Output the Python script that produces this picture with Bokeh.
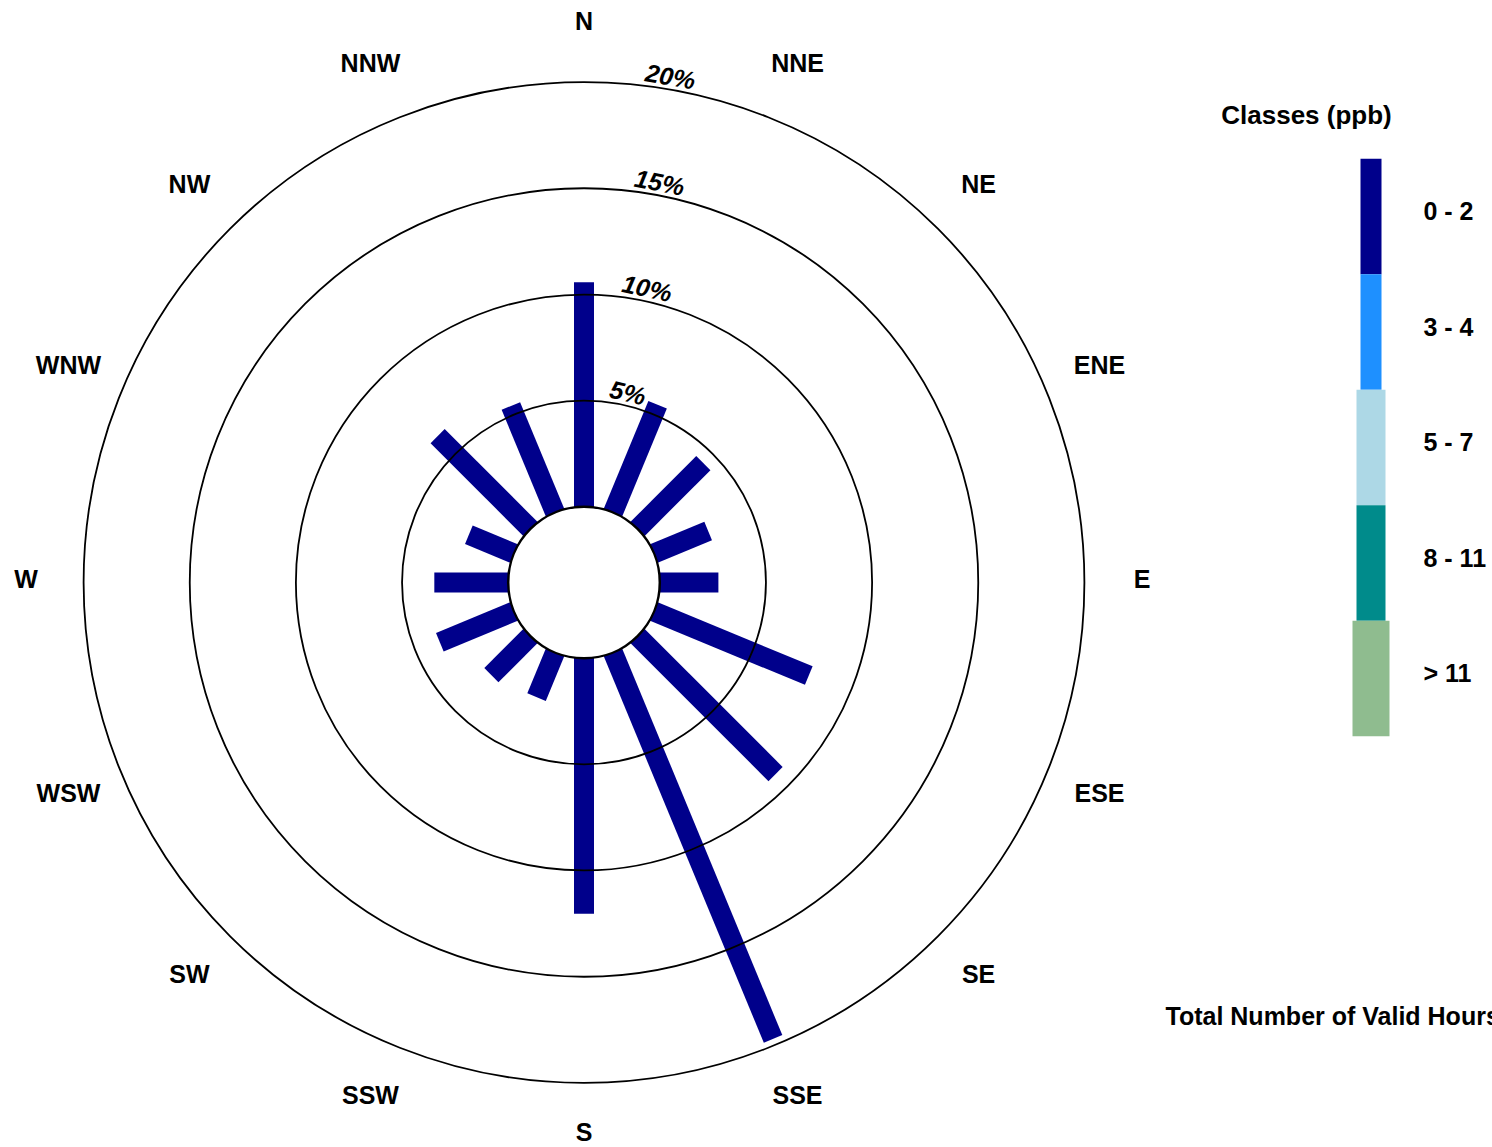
import numpy as np
from bokeh.plotting import figure
from bokeh.models import ColumnDataSource, Range1d
from bokeh.core.properties import value
from bokeh.embed import file_html
from bokeh.resources import INLINE

# ---------------- data ----------------
directions = ["N", "NNE", "NE", "ENE", "E", "ESE", "SE", "SSE",
              "S", "SSW", "SW", "WSW", "W", "WNW", "NW", "NNW"]
freq = [10.57, 5.49, 4.38, 2.76, 2.76, 7.89, 9.19, 19.70,
        12.03, 2.27, 2.60, 3.78, 3.48, 2.30, 6.18, 5.43]
classes = ["0 - 2", "3 - 4", "5 - 7", "8 - 11", "> 11"]
class_colors = ["#00008B", "#1E90FF", "#ADD8E6", "#008B8B", "#8FBC8F"]
ring_values = [5, 10, 15, 20]
ring_labels = ["5%", "10%", "15%", "20%"]
legend_title = "Classes (ppb)"
total_label = "Total Number of Valid Hours"

# ---------------- layout / style ----------------
W, H = 1492, 1147
SCALE = 21.23            # px per percent
CX, CY = 583.5, 582.0    # centre of rose in canvas px
HOLE = 75.8 / SCALE
FONT = value("Liberation Sans")
FS = "25px"
TXT_DY = 3.5 / SCALE     # raise "middle" baseline texts slightly
ring_label_angles = [13.0, 12.1, 10.7, 9.7]
legend_widths = [21, 21, 29, 29, 37]
LEG_TOP, LEG_H, LEG_CX = 158.3, 115.5, 1370.5

p = figure(width=W, height=H, output_backend="svg", toolbar_location=None,
           x_range=Range1d(-CX / SCALE, (W - CX) / SCALE),
           y_range=Range1d(-(H - CY) / SCALE, CY / SCALE),
           x_axis_location=None, y_axis_location=None, min_border=0)
p.grid.visible = False
p.outline_line_color = None
p.background_fill_color = "white"
p.border_fill_color = "white"


def px_x(px):
    return (px - CX) / SCALE


def px_y(py):
    return (CY - py) / SCALE


# bars
theta = np.deg2rad(np.arange(len(directions)) * 22.5)
r0 = HOLE * 0.8
r1 = HOLE + np.array(freq)
bars = ColumnDataSource(dict(x0=r0 * np.sin(theta), y0=r0 * np.cos(theta),
                             x1=r1 * np.sin(theta), y1=r1 * np.cos(theta)))
p.segment(x0="x0", y0="y0", x1="x1", y1="y1", source=bars,
          line_width=20, line_cap="butt", line_color=class_colors[0])

# rings
rr = HOLE + np.array(ring_values, dtype=float)
p.circle(x=[0] * len(rr), y=[0] * len(rr), radius=rr,
         fill_color=None, line_color="black", line_width=1.8)
# hole
p.circle(x=[0], y=[0], radius=HOLE, fill_color="white",
         line_color="black", line_width=2.5)

# ring labels
a = np.deg2rad(ring_label_angles)
rl = rr + 13.0 / SCALE
p.text(x=rl * np.sin(a), y=rl * np.cos(a), text=ring_labels, angle=-a,
       text_font=FONT, text_font_size=FS, text_font_style="bold italic",
       text_align="center", text_baseline="middle", text_color="black")

# direction labels
RD = 558.0 / SCALE
dx = RD * np.sin(theta)
dy = np.maximum(RD * np.cos(theta) + TXT_DY, -(H - CY - 16) / SCALE)
p.text(x=dx, y=dy, text=directions, text_font=FONT, text_font_size=FS,
       text_font_style="bold", text_align="center", text_baseline="middle",
       text_color="black")

# legend
tops = [LEG_TOP + i * LEG_H for i in range(len(classes))]
p.quad(left=[px_x(LEG_CX - w / 2) for w in legend_widths],
       right=[px_x(LEG_CX + w / 2) for w in legend_widths],
       top=[px_y(t) for t in tops], bottom=[px_y(t + LEG_H) for t in tops],
       fill_color=class_colors, line_color=None)
p.text(x=[px_x(1423)] * len(classes),
       y=[px_y(t + LEG_H / 2 - 2) + TXT_DY for t in tops],
       text=classes, text_font=FONT, text_font_size=FS, text_font_style="bold",
       text_align="left", text_baseline="middle", text_color="black")
p.text(x=[px_x(1306)], y=[px_y(118) + TXT_DY], text=[legend_title], text_font=FONT,
       text_font_size="26px", text_font_style="bold", text_align="center",
       text_baseline="middle", text_color="black")
p.text(x=[px_x(1165)], y=[px_y(1019) + TXT_DY], text=[total_label], text_font=FONT,
       text_font_size=FS, text_font_style="bold", text_align="left",
       text_baseline="middle", text_color="black")

open("out.html", "w").write(file_html(p, INLINE))
